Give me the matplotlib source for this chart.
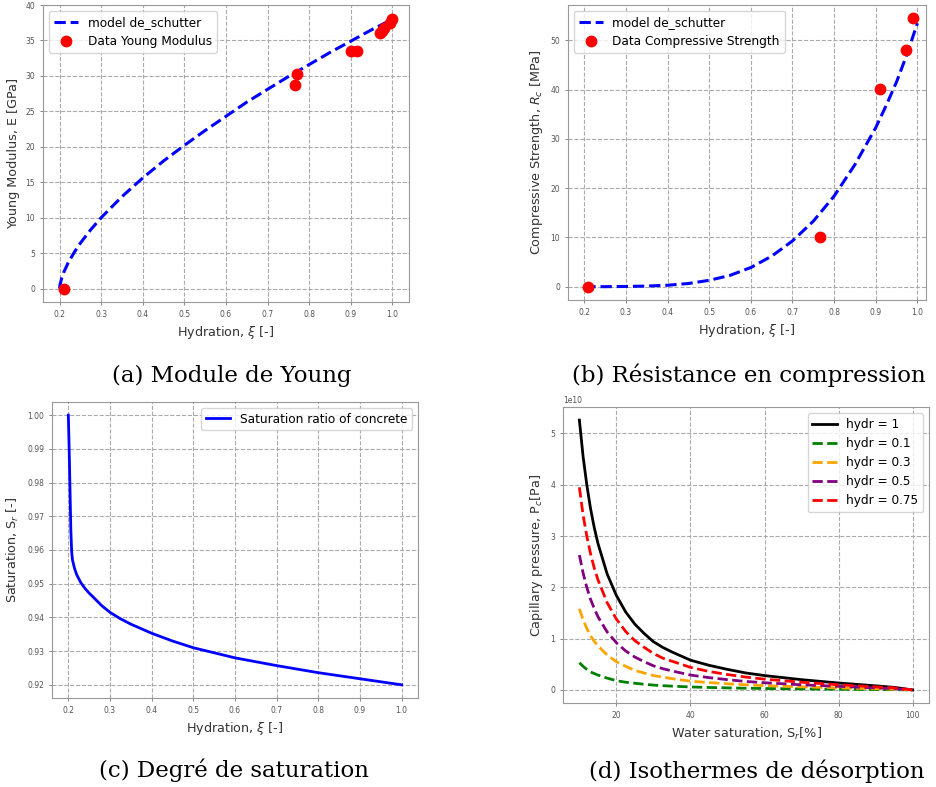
import numpy as np
import matplotlib
matplotlib.use("Agg")
import matplotlib.pyplot as plt

# (a) Young modulus
xa_model = [0.2, 0.201, 0.205, 0.21, 0.22, 0.235, 0.25, 0.275, 0.3, 0.35, 0.4, 0.45, 0.5,
            0.55, 0.6, 0.65, 0.7, 0.75, 0.8, 0.85, 0.9, 0.95, 1.0]
ya_model = [0.0, 0.52, 1.46, 2.28, 3.56, 5.09, 6.41, 8.31, 10.0, 12.97, 15.6, 18.0, 20.2,
            22.3, 24.3, 26.3, 28.1, 29.9, 31.6, 33.3, 34.9, 36.5, 38.0]
xa_data = [0.21, 0.765, 0.77, 0.90, 0.915, 0.97, 0.975, 0.98, 0.995, 1.0]
ya_data = [0.0, 28.7, 30.2, 33.5, 33.5, 36.0, 36.3, 36.8, 37.5, 38.0]

# (b) compressive strength
xb_model = [0.2, 0.25, 0.3, 0.35, 0.4, 0.45, 0.5, 0.55, 0.6, 0.65, 0.7, 0.75, 0.8, 0.85,
            0.9, 0.925, 0.95, 0.975, 1.0]
yb_model = [0.0, 0.01, 0.05, 0.13, 0.3, 0.65, 1.3, 2.3, 3.9, 6.2, 9.3, 13.3, 18.4, 24.8,
            32.3, 36.8, 41.6, 47.2, 53.5]
xb_data = [0.21, 0.765, 0.91, 0.972, 0.99]
yb_data = [0.0, 10.0, 40.1, 48.0, 54.5]

# (c) saturation ratio
xc = [0.2, 0.202, 0.204, 0.206, 0.208, 0.21, 0.215, 0.22, 0.23, 0.24, 0.25, 0.26, 0.28, 0.3,
      0.325, 0.35, 0.4, 0.45, 0.5, 0.6, 0.7, 0.8, 0.9, 1.0]
yc = [1.0, 0.99, 0.978, 0.966, 0.9595, 0.957, 0.9545, 0.9527, 0.9503, 0.9486, 0.9472,
      0.9460, 0.9435, 0.9415, 0.9396, 0.9380, 0.9353, 0.9330, 0.9310, 0.9280, 0.9257,
      0.9236, 0.9218, 0.9200]

# (d) desorption isotherms, Pc in 1e10 Pa
sr = [10, 11, 12, 13, 14, 15, 17.5, 20, 22.5, 25, 27.5, 30, 32.5, 35, 40, 45, 50, 55, 60,
      70, 80, 90, 95, 100]
pc_1 = [5.26, 4.55, 4.00, 3.54, 3.17, 2.86, 2.26, 1.84, 1.52, 1.28, 1.10, 0.94, 0.83, 0.74,
        0.58, 0.48, 0.40, 0.33, 0.28, 0.20, 0.135, 0.08, 0.05, 0.0]
pc_01 = [0.53, 0.46, 0.40, 0.35, 0.32, 0.29, 0.23, 0.18, 0.15, 0.13, 0.11, 0.094, 0.083,
         0.074, 0.058, 0.048, 0.04, 0.033, 0.028, 0.02, 0.0135, 0.008, 0.005, 0.0]
pc_03 = [1.58, 1.37, 1.20, 1.06, 0.95, 0.86, 0.68, 0.55, 0.46, 0.38, 0.33, 0.28, 0.25, 0.22,
         0.17, 0.144, 0.12, 0.10, 0.084, 0.06, 0.04, 0.024, 0.015, 0.0]
pc_05 = [2.63, 2.28, 2.00, 1.77, 1.59, 1.43, 1.13, 0.92, 0.76, 0.64, 0.55, 0.47, 0.415, 0.37,
         0.29, 0.24, 0.20, 0.165, 0.14, 0.10, 0.07, 0.04, 0.025, 0.0]
pc_075 = [3.95, 3.41, 3.00, 2.66, 2.38, 2.15, 1.70, 1.38, 1.14, 0.96, 0.83, 0.71, 0.62, 0.56,
          0.44, 0.36, 0.30, 0.25, 0.21, 0.15, 0.10, 0.06, 0.04, 0.0]

captions = ["(a) Module de Young", "(b) Résistance en compression",
            "(c) Degré de saturation", "(d) Isothermes de désorption"]

fig = plt.figure(figsize=(9.36, 7.87), dpi=100)


def style(ax):
    ax.grid(True, linestyle="--", color="#aaaaaa", linewidth=0.8)
    ax.set_axisbelow(True)
    for s in ax.spines.values():
        s.set_color("#999999")
    ax.tick_params(labelsize=5.5, colors="#555555", length=2, width=0.5)


lab = dict(fontsize=9.2, color="#333333")

ax1 = fig.add_axes([0.0459, 0.6163, 0.391, 0.3773])
ax1.plot(xa_model, ya_model, "b--", lw=2.2, label="model de_schutter")
ax1.plot(xa_data, ya_data, "ro", ms=7.5, label="Data Young Modulus")
ax1.set_xlim(0.16, 1.04)
ax1.set_ylim(-1.9, 40)
ax1.set_yticks(np.arange(0, 41, 5))
ax1.set_xlabel(r"Hydration, $\xi$ [-]", **lab)
ax1.set_ylabel("Young Modulus, E [GPa]", **lab)
ax1.legend(loc="upper left", fontsize=8.7)
style(ax1)

ax2 = fig.add_axes([0.6065, 0.6188, 0.3825, 0.3748])
ax2.plot(xb_model, yb_model, "b--", lw=2.2, label="model de_schutter")
ax2.plot(xb_data, yb_data, "ro", ms=7.5, label="Data Compressive Strength")
ax2.set_xlim(0.16, 1.02)
ax2.set_ylim(-2.7, 57.2)
ax2.set_xlabel(r"Hydration, $\xi$ [-]", **lab)
ax2.set_ylabel(r"Compressive Strength, $R_c$ [MPa]", **lab)
ax2.legend(loc="upper left", fontsize=8.7)
style(ax2)

ax3 = fig.add_axes([0.0552, 0.1127, 0.3917, 0.3769])
ax3.plot(xc, yc, "b-", lw=2, label="Saturation ratio of concrete")
ax3.set_xlim(0.16, 1.04)
ax3.set_ylim(0.916, 1.004)
ax3.set_yticks(np.arange(0.92, 1.0001, 0.01))
ax3.yaxis.set_major_formatter(matplotlib.ticker.FormatStrFormatter("%.2f"))
ax3.set_xlabel(r"Hydration, $\xi$ [-]", **lab)
ax3.set_ylabel(r"Saturation, S$_r$ [-]", **lab)
ax3.legend(loc="upper right", fontsize=8.7)
style(ax3)

ax4 = fig.add_axes([0.6012, 0.1064, 0.3916, 0.3761])
ax4.plot(sr, np.array(pc_1) * 1e10, "k-", lw=2, label="hydr = 1")
ax4.plot(sr, np.array(pc_01) * 1e10, "g--", lw=2, label="hydr = 0.1")
ax4.plot(sr, np.array(pc_03) * 1e10, "--", color="orange", lw=2, label="hydr = 0.3")
ax4.plot(sr, np.array(pc_05) * 1e10, "--", color="purple", lw=2, label="hydr = 0.5")
ax4.plot(sr, np.array(pc_075) * 1e10, "r--", lw=2, label="hydr = 0.75")
ax4.set_xlim(5.5, 104.5)
ax4.set_ylim(-0.26e10, 5.51e10)
ax4.set_xticks([20, 40, 60, 80, 100])
ax4.set_xlabel(r"Water saturation, S$_r$[%]", **lab)
ax4.set_ylabel(r"Capillary pressure, P$_c$[Pa]", **lab)
ax4.legend(loc="upper right", fontsize=8.7)
style(ax4)
ax4.yaxis.get_offset_text().set_fontsize(5.5)
ax4.yaxis.get_offset_text().set_color("#555555")

cap_pos = [(0.248, 0.5146), (0.80, 0.5146), (0.25, 0.0127), (0.808, 0.0114)]
for (cx, cy), txt in zip(cap_pos, captions):
    fig.text(cx, cy, txt, ha="center", va="baseline", fontsize=16.5, family="DejaVu Serif")

fig.savefig("out.png", dpi=100)
